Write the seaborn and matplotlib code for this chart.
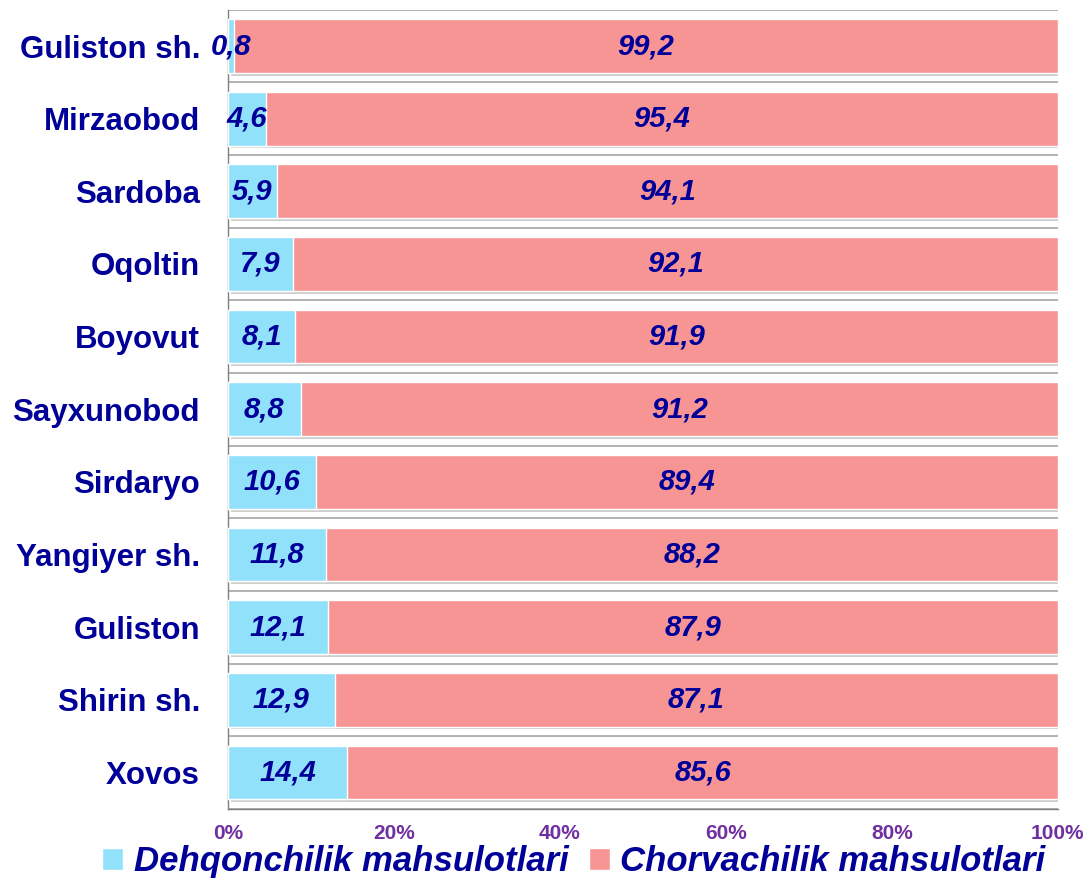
import matplotlib
matplotlib.use("Agg")
import matplotlib.pyplot as plt
import matplotlib.patheffects as pe
from matplotlib.patches import Patch
from matplotlib.ticker import FixedLocator, PercentFormatter
import pandas as pd
import seaborn as sns

districts = ["Guliston sh.", "Mirzaobod", "Sardoba", "Oqoltin", "Boyovut", "Sayxunobod",
             "Sirdaryo", "Yangiyer sh.", "Guliston", "Shirin sh.", "Xovos"]
dehqonchilik = [0.8, 4.6, 5.9, 7.9, 8.1, 8.8, 10.6, 11.8, 12.1, 12.9, 14.4]
chorvachilik = [99.2, 95.4, 94.1, 92.1, 91.9, 91.2, 89.4, 88.2, 87.9, 87.1, 85.6]
series_names = ["Dehqonchilik mahsulotlari", "Chorvachilik mahsulotlari"]

BLUE = "#92E1FB"
PINK = "#F79595"
NAVY = "#000099"
PURPLE = "#7030A0"

sns.set_style("white")
plt.rcParams["font.family"] = ["Liberation Sans", "DejaVu Sans"]

df = pd.DataFrame({"district": districts, "dehq": dehqonchilik, "chorv": chorvachilik})
df["total"] = df["dehq"] + df["chorv"]

fig, ax = plt.subplots(figsize=(10.85, 8.82), dpi=100)
fig.subplots_adjust(left=0.210, right=0.975, top=0.989, bottom=0.083)

# full bar (pink) with a soft shadow, then the blue part on top
sns.barplot(data=df, y="district", x="total", orient="h", color=PINK, saturation=1,
            width=0.74, ax=ax, zorder=3)
shadow = [pe.SimplePatchShadow(offset=(2, -2), shadow_rgbFace="#909090", alpha=0.45), pe.Normal()]
for bar in ax.patches:
    bar.set_path_effects(shadow)
sns.barplot(data=df, y="district", x="dehq", orient="h", color=BLUE, saturation=1,
            width=0.74, ax=ax, zorder=4)

lbl_kw = dict(ha="center", va="center", color=NAVY, fontsize=21,
              fontweight="bold", fontstyle="italic", zorder=6)
for i, (d, c) in enumerate(zip(dehqonchilik, chorvachilik)):
    ax.text(d / 2, i, f"{d:.1f}".replace(".", ","), **lbl_kw)
    ax.text(d + c / 2, i, f"{c:.1f}".replace(".", ","), **lbl_kw)

ax.set_xlim(0, 100)
ax.set_ylim(len(districts) - 0.5, -0.5)
ax.xaxis.set_major_locator(FixedLocator([0, 20, 40, 60, 80, 100]))
ax.xaxis.set_major_formatter(PercentFormatter(decimals=0))
ax.yaxis.set_minor_locator(FixedLocator([i - 0.5 for i in range(len(districts) + 1)]))
ax.grid(axis="y", which="minor", color="#A6A6A6", linewidth=1.2, zorder=0)
ax.set_axisbelow(True)

ax.tick_params(axis="x", which="major", length=5, width=1, color="#808080",
               labelsize=15, labelcolor=PURPLE, pad=6)
for t in ax.get_xticklabels():
    t.set_fontweight("bold")
ax.tick_params(axis="y", which="major", length=0, labelsize=22.5, labelcolor=NAVY, pad=20)
ax.tick_params(axis="y", which="minor", length=5, width=1, color="#808080")
for t in ax.get_yticklabels():
    t.set_fontweight("bold")

ax.set_xlabel("")
ax.set_ylabel("")
for side in ["top", "right"]:
    ax.spines[side].set_visible(False)
for side in ["left", "bottom"]:
    ax.spines[side].set_color("#808080")
    ax.spines[side].set_linewidth(1)

handles = [Patch(facecolor=BLUE), Patch(facecolor=PINK)]
leg = fig.legend(handles, series_names, loc="lower center", bbox_to_anchor=(0.529, -0.031),
                 ncol=2, frameon=False, handlelength=0.6, handleheight=0.6,
                 handletextpad=0.3, columnspacing=0.6,
                 prop=dict(family=["Liberation Sans", "DejaVu Sans"], size=25,
                           weight="bold", style="italic"))
for t in leg.get_texts():
    t.set_color(NAVY)

fig.savefig("out.png", dpi=100)
